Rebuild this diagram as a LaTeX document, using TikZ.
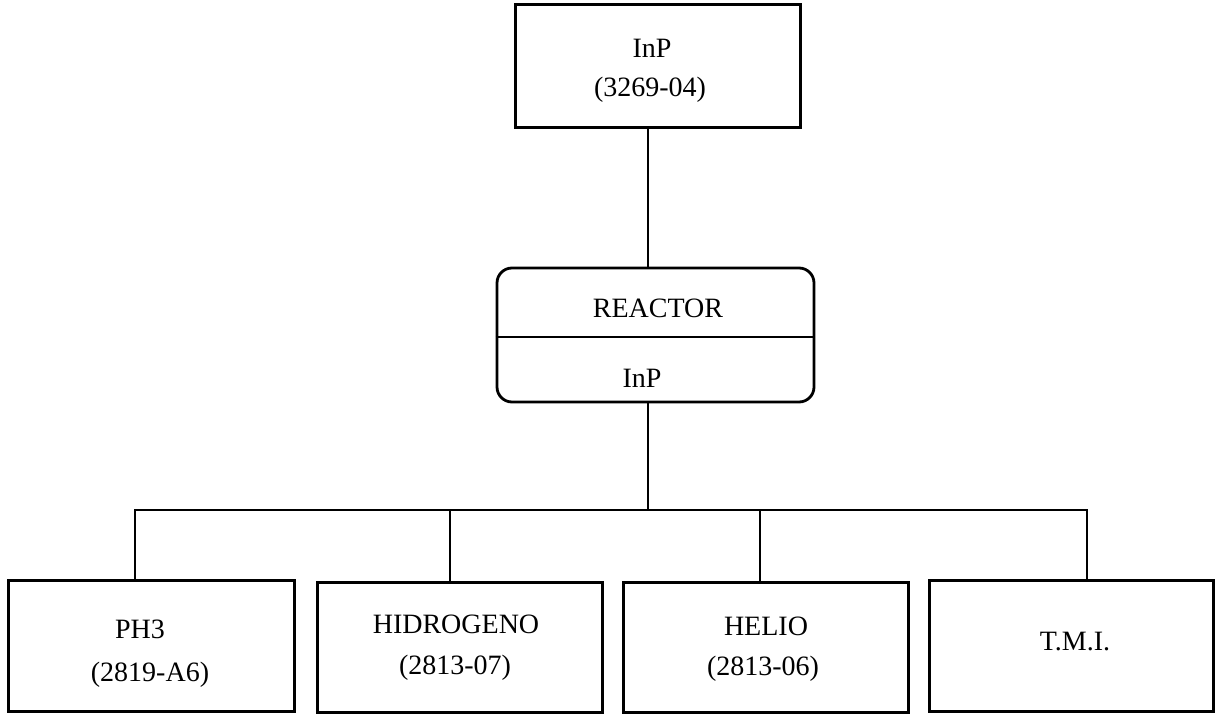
\documentclass[tikz,border=0pt]{standalone}
\usepackage{fontspec}
\setmainfont{Liberation Serif}
\begin{document}
\begin{tikzpicture}[x=1pt,y=-1pt,
  box/.style={draw, line width=3pt, rectangle, inner sep=0pt},
  reactorbox/.style={draw, line width=2.8pt, rectangle, rounded corners=15pt, inner sep=0pt},
  wire/.style={line width=2.3pt},
  lbl/.style={anchor=base, inner sep=0pt, font=\fontsize{28}{32}\selectfont}]
  \useasboundingbox (0,0) rectangle (1215,714);

  % boxes
  \node[box, minimum width=285pt, minimum height=123pt] (top) at (657.5,66.5) {};
  \node[reactorbox, minimum width=317pt, minimum height=134pt] (reactor) at (655.5,335) {};
  \node[box, minimum width=286pt, minimum height=131pt] (b1) at (151,645.5) {};
  \node[box, minimum width=285pt, minimum height=130pt] (b2) at (459.5,647) {};
  \node[box, minimum width=285pt, minimum height=130pt] (b3) at (765.5,647) {};
  \node[box, minimum width=284pt, minimum height=131pt] (b4) at (1071,645.5) {};

  % divider inside the reactor
  \coordinate (div) at (0,337);
  \draw[wire] (reactor.west |- div) -- (reactor.east |- div);

  % labels
  \node[lbl] (tl1) at (652,58) {InP};
  \node[lbl] (tl2) at (650,97) {(3269-04)};
  \node[lbl] (rl1) at (658,317) {REACTOR};
  \node[lbl] (rl2) at (642,387) {InP};
  \node[lbl] (l1a) at (140,638) {PH3};
  \node[lbl] (l1b) at (150,681) {(2819-A6)};
  \node[lbl] (l2a) at (456,633) {HIDROGENO};
  \node[lbl] (l2b) at (455,674) {(2813-07)};
  \node[lbl] (l3a) at (766,635) {HELIO};
  \node[lbl] (l3b) at (763,675) {(2813-06)};
  \node[lbl] (l4a) at (1075,650) {T.M.I.};

  % bus and stems
  \coordinate (hub) at (648,510);
  \coordinate (s1) at (135,510);
  \coordinate (s2) at (450,510);
  \coordinate (s3) at (760,510);
  \coordinate (s4) at (1087,510);

  \draw[wire] (top.south -| hub) -- (reactor.north -| hub);
  \draw[wire] (reactor.south -| hub) -- (hub);
  \draw[wire, line cap=rect] (s1) -- (s4);
  \draw[wire] (s1) -- (s1 |- b1.north);
  \draw[wire] (s2) -- (s2 |- b2.north);
  \draw[wire] (s3) -- (s3 |- b3.north);
  \draw[wire] (s4) -- (s4 |- b4.north);
\end{tikzpicture}
\end{document}
